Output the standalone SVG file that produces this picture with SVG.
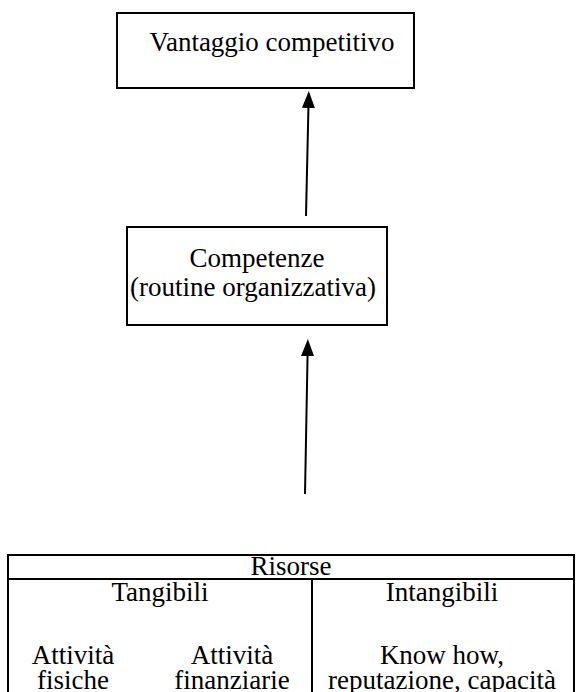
<svg xmlns="http://www.w3.org/2000/svg" width="581" height="692" viewBox="0 0 581 692">
  <style>
    .box { fill: #fff; stroke: #000; stroke-width: 2; }
    .rule { stroke: #000; stroke-width: 2; fill: none; }
    .lbl { font-family: "Liberation Serif", "Times New Roman", serif; font-size: 27px; fill: #000; text-anchor: middle; }
    .edge { stroke: #000; stroke-width: 2; fill: none; marker-end: url(#head); }
  </style>
  <defs>
    <!-- filled triangular arrowhead; the line stops halfway into it -->
    <marker id="head" viewBox="0 0 17 13" refX="8" refY="6.5" markerWidth="17" markerHeight="13" markerUnits="userSpaceOnUse" orient="auto">
      <path d="M0 0 L17 6.5 L0 13 Z" fill="#000"/>
    </marker>
  </defs>
  <rect width="581" height="692" fill="#fff"/>

  <g id="connectors">
    <line class="edge" x1="306" y1="216" x2="308.6" y2="100"/>
    <line class="edge" x1="305" y1="494" x2="307.7" y2="348"/>
  </g>

  <g id="vantaggio">
    <rect class="box" x="117" y="13" width="297" height="75"/>
    <text class="lbl" x="272" y="51">Vantaggio competitivo</text>
  </g>

  <g id="competenze">
    <rect class="box" x="127" y="227" width="260" height="98"/>
    <text class="lbl" x="257" y="267">Competenze</text>
    <text class="lbl" x="253" y="296">(routine organizzativa)</text>
  </g>

  <g id="risorse">
    <path class="rule" d="M8 692 V555 H574 V692"/>
    <line class="rule" x1="8" y1="579" x2="574" y2="579"/>
    <line class="rule" x1="312" y1="579" x2="312" y2="692"/>
    <text class="lbl" x="291" y="575">Risorse</text>
    <text class="lbl" x="160" y="601">Tangibili</text>
    <text class="lbl" x="442" y="601">Intangibili</text>
    <text class="lbl" x="73" y="664">Attività</text>
    <text class="lbl" x="73" y="689">fisiche</text>
    <text class="lbl" x="232" y="664">Attività</text>
    <text class="lbl" x="232" y="689">finanziarie</text>
    <text class="lbl" x="442" y="664">Know how,</text>
    <text class="lbl" x="442" y="689">reputazione, capacità</text>
  </g>
</svg>
